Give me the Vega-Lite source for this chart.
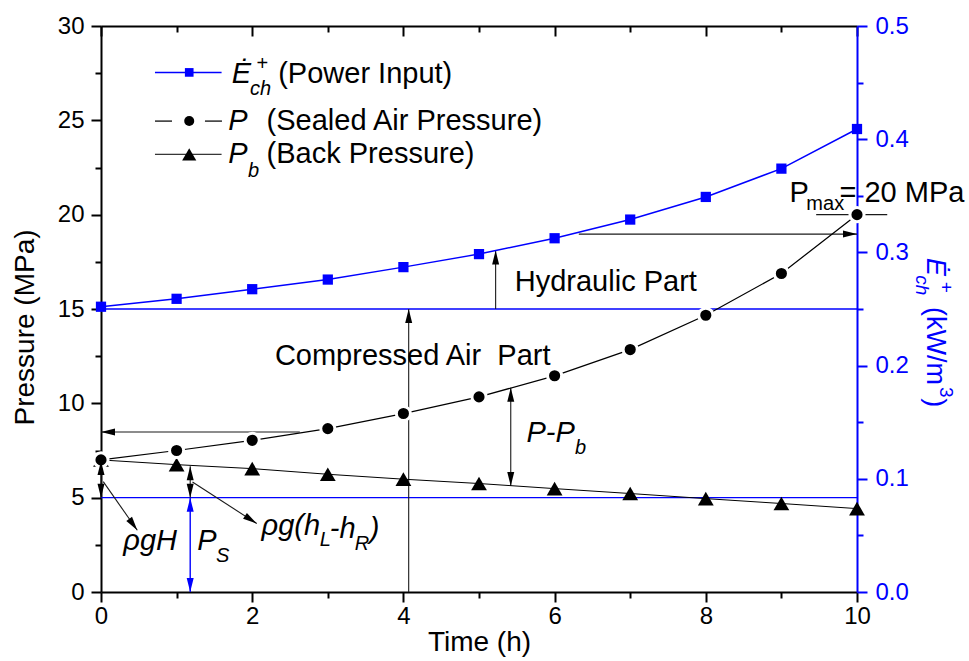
{
  "$schema": "https://vega.github.io/schema/vega-lite/v6.json",
  "width": 756,
  "height": 566,
  "autosize": "none",
  "padding": {"left": 101, "top": 26, "right": 112, "bottom": 69},
  "background": "white",
  "config": {
    "font": "Liberation Sans",
    "view": {"stroke": null},
    "axis": {
      "grid": false,
      "labelFontSize": 24,
      "labelColor": "black",
      "domainColor": "black",
      "tickColor": "black",
      "domainWidth": 2,
      "tickWidth": 2,
      "labelOverlap": false,
      "labelFlush": false,
      "labelBound": false,
      "titleFontWeight": "normal",
      "titleFontSize": 28,
      "titleColor": "black"
    }
  },
  "datasets": {
    "power": [
      {"t": 0, "e": 0.252}, {"t": 1, "e": 0.259}, {"t": 2, "e": 0.2675},
      {"t": 3, "e": 0.276}, {"t": 4, "e": 0.287}, {"t": 5, "e": 0.2985},
      {"t": 6, "e": 0.3125}, {"t": 7, "e": 0.329}, {"t": 8, "e": 0.349},
      {"t": 9, "e": 0.374}, {"t": 10, "e": 0.409}
    ],
    "pressure": [
      {"t": 0, "series": "P", "p": 7.0}, {"t": 1, "series": "P", "p": 7.5},
      {"t": 2, "series": "P", "p": 8.04}, {"t": 3, "series": "P", "p": 8.66},
      {"t": 4, "series": "P", "p": 9.46}, {"t": 5, "series": "P", "p": 10.34},
      {"t": 6, "series": "P", "p": 11.46}, {"t": 7, "series": "P", "p": 12.85},
      {"t": 8, "series": "P", "p": 14.67}, {"t": 9, "series": "P", "p": 16.88},
      {"t": 10, "series": "P", "p": 20.0},
      {"t": 0, "series": "Pb", "p": 7.0}, {"t": 1, "series": "Pb", "p": 6.75},
      {"t": 2, "series": "Pb", "p": 6.54}, {"t": 3, "series": "Pb", "p": 6.24},
      {"t": 4, "series": "Pb", "p": 5.98}, {"t": 5, "series": "Pb", "p": 5.75},
      {"t": 6, "series": "Pb", "p": 5.48}, {"t": 7, "series": "Pb", "p": 5.22},
      {"t": 8, "series": "Pb", "p": 4.95}, {"t": 9, "series": "Pb", "p": 4.69},
      {"t": 10, "series": "Pb", "p": 4.42}
    ],
    "levels": [
      {"t": 0, "t2": 10, "p": 15, "p2": 15},
      {"t": 0, "t2": 10, "p": 5, "p2": 5}
    ],
    "shafts": [
      {"t": 6.32, "t2": 10, "p": 18.97, "p2": 18.97},
      {"t": 5.22, "t2": 5.22, "p": 15, "p2": 18.1},
      {"t": 4.07, "t2": 4.07, "p": 0, "p2": 15},
      {"t": 0, "t2": 2.63, "p": 8.48, "p2": 8.48},
      {"t": 5.42, "t2": 5.42, "p": 5.62, "p2": 10.82},
      {"t": 0, "t2": 0, "p": 5, "p2": 6.95},
      {"t": 1.18, "t2": 1.18, "p": 5, "p2": 6.66},
      {"t": 0.03, "t2": 0.48, "p": 5.85, "p2": 3.27},
      {"t": 1.21, "t2": 2.06, "p": 5.83, "p2": 3.63},
      {"t": 9.46, "t2": 10.4, "p": 20, "p2": 20}
    ],
    "ps_shaft": [
      {"t": 1.18, "t2": 1.18, "p": 0, "p2": 5}
    ],
    "heads": [
      {"t": 10, "p": 18.97, "dir": "right"},
      {"t": 5.22, "p": 18.1, "dir": "up"},
      {"t": 4.07, "p": 15, "dir": "up"},
      {"t": 0, "p": 8.48, "dir": "left"},
      {"t": 5.42, "p": 10.82, "dir": "up"},
      {"t": 5.42, "p": 5.62, "dir": "down"},
      {"t": 0, "p": 6.95, "dir": "up"},
      {"t": 0, "p": 5.0, "dir": "down"},
      {"t": 1.18, "p": 6.66, "dir": "up"},
      {"t": 1.18, "p": 5.0, "dir": "down"},
      {"t": 0.48, "p": 3.27, "dir": "steep"},
      {"t": 2.06, "p": 3.63, "dir": "shallow"}
    ],
    "ps_heads": [
      {"t": 1.18, "p": 5, "dir": "up"},
      {"t": 1.18, "p": 0, "dir": "down"}
    ],
    "key_lines": [
      {"series": "E", "t": 0.714, "t2": 1.595, "p": 27.54, "p2": 27.54},
      {"series": "P", "t": 0.714, "t2": 0.939, "p": 24.96, "p2": 24.96},
      {"series": "P", "t": 1.375, "t2": 1.6, "p": 24.96, "p2": 24.96},
      {"series": "Pb", "t": 0.714, "t2": 1.595, "p": 23.2, "p2": 23.2}
    ],
    "key_marks": [
      {"series": "E", "t": 1.167, "p": 27.54},
      {"series": "P", "t": 1.167, "p": 24.96},
      {"series": "Pb", "t": 1.167, "p": 23.2}
    ],
    "notes": [
      {"label": "Hydraulic Part", "t": 5.473, "p": 15.95},
      {"label": "Compressed Air \u00a0Part", "t": 2.30, "p": 12.02},
      {"label": "(Power Input)", "t": 2.344, "p": 26.98},
      {"label": "(Sealed Air Pressure)", "t": 2.19, "p": 24.48},
      {"label": "(Back Pressure)", "t": 2.19, "p": 22.73},
      {"label": "P", "t": 9.108, "p": 20.68},
      {"label": "= 20 MPa", "t": 9.768, "p": 20.68}
    ],
    "notes_sub": [
      {"label": "max", "t": 9.33, "p": 20.24},
      {"label": "+", "t": 2.058, "p": 27.66}
    ],
    "notes_it": [
      {"label": "Ė", "t": 1.728, "p": 26.98},
      {"label": "P", "t": 1.683, "p": 24.48},
      {"label": "P", "t": 1.683, "p": 22.73},
      {"label": "P-P", "t": 5.627, "p": 7.95},
      {"label": "ρgH", "t": 0.295, "p": 2.21},
      {"label": "P", "t": 1.273, "p": 2.21},
      {"label": "ρg(h", "t": 2.124, "p": 3.0},
      {"label": "-h", "t": 3.027, "p": 2.85},
      {"label": ")", "t": 3.556, "p": 2.85}
    ],
    "notes_it_sub": [
      {"label": "ch", "t": 1.97, "p": 26.34},
      {"label": "b", "t": 1.943, "p": 22.01},
      {"label": "b", "t": 6.27, "p": 7.33},
      {"label": "S", "t": 1.52, "p": 1.59},
      {"label": "L", "t": 2.895, "p": 2.45},
      {"label": "R", "t": 3.358, "p": 2.2}
    ],
    "unit_it": [
      {"label": "Ė", "t": 10.932, "p": 17.7}
    ],
    "unit": [
      {"label": "(kW/m", "t": 10.932, "p": 15.11},
      {"label": ")", "t": 10.932, "p": 10.27}
    ],
    "unit_sub": [
      {"label": "+", "t": 11.1, "p": 16.44},
      {"label": "3", "t": 11.1, "p": 10.87}
    ],
    "unit_it_sub": [
      {"label": "ch", "t": 10.786, "p": 16.79}
    ]
  },
  "layer": [
    {
      "encoding": {
        "x": {
          "field": "t",
          "type": "quantitative",
          "scale": {"domain": [0, 10], "nice": false, "zero": false},
          "axis": {
            "orient": "bottom",
            "values": [0, 1, 2, 3, 4, 5, 6, 7, 8, 9, 10],
            "labelExpr": "datum.value % 2 === 0 ? format(datum.value, 'd') : ''",
            "tickSize": {"condition": {"test": "datum.value % 2 === 0", "value": 10}, "value": 6},
            "labelPadding": 2,
            "title": "Time (h)",
            "titleY": 58,
            "titleBaseline": "alphabetic"
          }
        },
        "y": {
          "field": "p",
          "type": "quantitative",
          "scale": {"domain": [0, 30], "nice": false, "zero": false},
          "axis": {
            "orient": "left",
            "values": [0, 2.5, 5, 7.5, 10, 12.5, 15, 17.5, 20, 22.5, 25, 27.5, 30],
            "labelExpr": "datum.value % 5 === 0 ? format(datum.value, 'd') : ''",
            "tickSize": {"condition": {"test": "datum.value % 5 === 0", "value": 10}, "value": 6},
            "labelPadding": 7,
            "title": "Pressure (MPa)",
            "titleAngle": -90,
            "titleX": -68,
            "titleY": 301,
            "titleAlign": "center",
            "titleBaseline": "alphabetic"
          }
        }
      },
      "layer": [
        {
          "data": {"name": "levels"},
          "mark": {"type": "rule", "color": "#0000ff", "strokeWidth": 1.4},
          "encoding": {"x2": {"field": "t2"}, "y2": {"field": "p2"}}
        },
        {
          "data": {"name": "shafts"},
          "mark": {"type": "rule", "color": "#1a1a1a", "strokeWidth": 1.1},
          "encoding": {"x2": {"field": "t2"}, "y2": {"field": "p2"}}
        },
        {
          "data": {"name": "ps_shaft"},
          "mark": {"type": "rule", "color": "#0000ff", "strokeWidth": 1.4},
          "encoding": {"x2": {"field": "t2"}, "y2": {"field": "p2"}}
        },
        {
          "data": {"name": "pressure"},
          "mark": {"type": "line", "color": "black"},
          "encoding": {
            "detail": {"field": "series", "type": "nominal"},
            "strokeWidth": {
              "field": "series", "type": "nominal",
              "scale": {"domain": ["E", "P", "Pb"], "range": [1.5, 1, 1.5]},
              "legend": null
            }
          }
        },
        {
          "data": {"name": "pressure"},
          "transform": [{"filter": "datum.series === 'Pb'"}],
          "mark": {"type": "point", "filled": true, "opacity": 1, "color": "black", "shape": "triangle-up", "size": 250}
        },
        {
          "data": {"name": "pressure"},
          "transform": [{"filter": "datum.series === 'P'"}],
          "mark": {"type": "point", "filled": true, "opacity": 1, "color": "black", "shape": "circle", "size": 200, "stroke": "white", "strokeWidth": 3}
        },
        {
          "data": {"name": "heads"},
          "transform": [{"filter": "datum.dir === 'up'"}],
          "mark": {"type": "point", "filled": true, "opacity": 1, "color": "black", "size": 196, "angle": 0, "shape": "M0,0L0.5,2L-0.5,2Z"}
        },
        {
          "data": {"name": "heads"},
          "transform": [{"filter": "datum.dir === 'down'"}],
          "mark": {"type": "point", "filled": true, "opacity": 1, "color": "black", "size": 196, "angle": 180, "shape": "M0,0L0.5,2L-0.5,2Z"}
        },
        {
          "data": {"name": "heads"},
          "transform": [{"filter": "datum.dir === 'left'"}],
          "mark": {"type": "point", "filled": true, "opacity": 1, "color": "black", "size": 196, "angle": 270, "shape": "M0,0L0.5,2L-0.5,2Z"}
        },
        {
          "data": {"name": "heads"},
          "transform": [{"filter": "datum.dir === 'right'"}],
          "mark": {"type": "point", "filled": true, "opacity": 1, "color": "black", "size": 196, "angle": 90, "shape": "M0,0L0.5,2L-0.5,2Z"}
        },
        {
          "data": {"name": "heads"},
          "transform": [{"filter": "datum.dir === 'steep'"}],
          "mark": {"type": "point", "filled": true, "opacity": 1, "color": "black", "size": 196, "angle": 144.6, "shape": "M0,0L0.5,2L-0.5,2Z"}
        },
        {
          "data": {"name": "heads"},
          "transform": [{"filter": "datum.dir === 'shallow'"}],
          "mark": {"type": "point", "filled": true, "opacity": 1, "color": "black", "size": 196, "angle": 123, "shape": "M0,0L0.5,2L-0.5,2Z"}
        },
        {
          "data": {"name": "ps_heads"},
          "transform": [{"filter": "datum.dir === 'up'"}],
          "mark": {"type": "point", "filled": true, "opacity": 1, "color": "#0000ff", "size": 196, "angle": 0, "shape": "M0,0L0.5,2L-0.5,2Z"}
        },
        {
          "data": {"name": "ps_heads"},
          "transform": [{"filter": "datum.dir === 'down'"}],
          "mark": {"type": "point", "filled": true, "opacity": 1, "color": "#0000ff", "size": 196, "angle": 180, "shape": "M0,0L0.5,2L-0.5,2Z"}
        },
        {
          "data": {"name": "key_lines"},
          "mark": {"type": "rule"},
          "encoding": {
            "x2": {"field": "t2"},
            "y2": {"field": "p2"},
            "color": {
              "field": "series", "type": "nominal",
              "scale": {"domain": ["E", "P", "Pb"], "range": ["#0000ff", "#000000", "#000000"]},
              "legend": null
            },
            "strokeWidth": {
              "field": "series", "type": "nominal",
              "scale": {"domain": ["E", "P", "Pb"], "range": [1.5, 1, 1.5]},
              "legend": null
            }
          }
        },
        {
          "data": {"name": "key_marks"},
          "transform": [{"filter": "datum.series === 'E'"}],
          "mark": {"type": "point", "filled": true, "opacity": 1, "color": "#0000ff", "shape": "square", "size": 75}
        },
        {
          "data": {"name": "key_marks"},
          "transform": [{"filter": "datum.series === 'P'"}],
          "mark": {"type": "point", "filled": true, "opacity": 1, "color": "black", "shape": "circle", "size": 100}
        },
        {
          "data": {"name": "key_marks"},
          "transform": [{"filter": "datum.series === 'Pb'"}],
          "mark": {"type": "point", "filled": true, "opacity": 1, "color": "black", "shape": "triangle-up", "size": 200}
        },
        {
          "data": {"name": "notes"},
          "mark": {"type": "text", "align": "left", "baseline": "alphabetic", "fontSize": 29, "color": "black"},
          "encoding": {"text": {"field": "label"}}
        },
        {
          "data": {"name": "notes_sub"},
          "mark": {"type": "text", "align": "left", "baseline": "alphabetic", "fontSize": 20, "color": "black"},
          "encoding": {"text": {"field": "label"}}
        },
        {
          "data": {"name": "notes_it"},
          "mark": {"type": "text", "align": "left", "baseline": "alphabetic", "fontSize": 29, "fontStyle": "italic", "color": "black"},
          "encoding": {"text": {"field": "label"}}
        },
        {
          "data": {"name": "notes_it_sub"},
          "mark": {"type": "text", "align": "left", "baseline": "alphabetic", "fontSize": 20, "fontStyle": "italic", "color": "black"},
          "encoding": {"text": {"field": "label"}}
        },
        {
          "data": {"name": "unit_it"},
          "mark": {"type": "text", "align": "left", "baseline": "alphabetic", "fontSize": 27, "fontStyle": "italic", "angle": 90, "color": "#0000ff"},
          "encoding": {"text": {"field": "label"}}
        },
        {
          "data": {"name": "unit"},
          "mark": {"type": "text", "align": "left", "baseline": "alphabetic", "fontSize": 27, "angle": 90, "color": "#0000ff"},
          "encoding": {"text": {"field": "label"}}
        },
        {
          "data": {"name": "unit_sub"},
          "mark": {"type": "text", "align": "left", "baseline": "alphabetic", "fontSize": 19, "angle": 90, "color": "#0000ff"},
          "encoding": {"text": {"field": "label"}}
        },
        {
          "data": {"name": "unit_it_sub"},
          "mark": {"type": "text", "align": "left", "baseline": "alphabetic", "fontSize": 19, "fontStyle": "italic", "angle": 90, "color": "#0000ff"},
          "encoding": {"text": {"field": "label"}}
        }
      ]
    },
    {
      "data": {"name": "power"},
      "encoding": {
        "x": {
          "field": "t",
          "type": "quantitative",
          "scale": {"domain": [0, 10], "nice": false, "zero": false},
          "axis": {
            "orient": "top",
            "values": [0, 1, 2, 3, 4, 5, 6, 7, 8, 9, 10],
            "labels": false,
            "tickSize": {"condition": {"test": "datum.value % 2 === 0", "value": -10}, "value": -6},
            "title": null
          }
        },
        "y": {
          "field": "e",
          "type": "quantitative",
          "scale": {"domain": [0, 0.5], "nice": false, "zero": false},
          "axis": {
            "orient": "right",
            "values": [0, 0.05, 0.1, 0.15, 0.2, 0.25, 0.3, 0.35, 0.4, 0.45, 0.5],
            "labelExpr": "abs(datum.value * 10 - round(datum.value * 10)) < 0.001 ? format(datum.value, '.1f') : ''",
            "tickSize": {"condition": {"test": "abs(datum.value * 10 - round(datum.value * 10)) < 0.001", "value": 10}, "value": 6},
            "labelPadding": 8,
            "domainColor": "#0000ff",
            "tickColor": "#0000ff",
            "labelColor": "#0000ff",
            "title": null
          }
        }
      },
      "layer": [
        {"mark": {"type": "line", "color": "#0000ff", "strokeWidth": 1.5}},
        {"mark": {"type": "point", "shape": "square", "filled": true, "opacity": 1, "color": "#0000ff", "size": 105}}
      ]
    }
  ],
  "resolve": {"scale": {"y": "independent"}, "axis": {"x": "independent"}}
}
